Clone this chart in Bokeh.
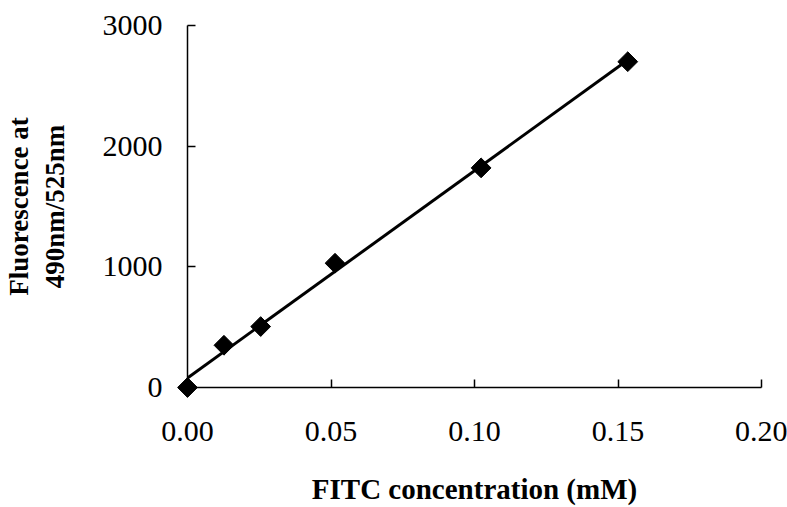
import numpy as np
from bokeh.plotting import figure
from bokeh.models import Range1d, FixedTicker
from bokeh.embed import file_html
from bokeh.resources import INLINE

# Data
conc = [0.0, 0.0127, 0.0255, 0.0514, 0.1023, 0.1534]      # FITC concentration (mM)
fluor = [0, 350, 505, 1030, 1820, 2700]                   # Fluorescence at 490nm/525nm

x_ticks = [0.0, 0.05, 0.10, 0.15, 0.20]
x_tick_labels = ["0.00", "0.05", "0.10", "0.15", "0.20"]
y_ticks = [0, 1000, 2000, 3000]
y_tick_labels = ["0", "1000", "2000", "3000"]

x_label = "FITC concentration (mM)"
y_label = "Fluorescence at\n490nm/525nm"

FONT = "Liberation Serif"

p = figure(width=787, height=507, output_backend="svg", toolbar_location=None,
           x_range=Range1d(0, 0.2), y_range=Range1d(0, 3000),
           min_border_left=186, min_border_right=26, min_border_top=25, min_border_bottom=120)
p.outline_line_color = None
p.xgrid.visible = False
p.ygrid.visible = False
p.background_fill_color = "white"
p.border_fill_color = "white"

# Linear fit (trend line) computed from data
slope, intercept = np.polyfit(conc, fluor, 1)
fx = [0.0, max(conc)]
fy = [intercept + slope * v for v in fx]
p.line(fx, fy, line_color="black", line_width=3)

p.scatter(conc, fluor, marker="square", size=14, angle=np.pi / 4,
          fill_color="black", line_color="black", level="overlay")

for ax, ticks, labels in ((p.xaxis[0], x_ticks, x_tick_labels), (p.yaxis[0], y_ticks, y_tick_labels)):
    ax.ticker = FixedTicker(ticks=ticks)
    ax.major_label_overrides = {t: l for t, l in zip(ticks, labels)}
    ax.minor_tick_line_color = None
    ax.major_tick_in = 8
    ax.major_tick_out = 0
    ax.major_tick_line_color = "black"
    ax.major_tick_line_width = 1.5
    ax.axis_line_color = "black"
    ax.axis_line_width = 1.5
    ax.major_label_text_font = FONT
    ax.major_label_text_font_size = "30px"
    ax.major_label_text_color = "black"
    ax.axis_label_text_font = FONT
    ax.axis_label_text_font_style = "bold"
    ax.axis_label_text_color = "black"

p.xaxis.axis_label = x_label
p.xaxis.axis_label_text_font_size = "29px"
p.xaxis.major_label_standoff = 34
p.xaxis.axis_label_standoff = 29

p.yaxis.axis_label = y_label
p.yaxis.axis_label_text_font_size = "27px"
p.yaxis.major_label_standoff = 25
p.yaxis.axis_label_standoff = 30

open("out.html", "w").write(file_html(p, INLINE))
